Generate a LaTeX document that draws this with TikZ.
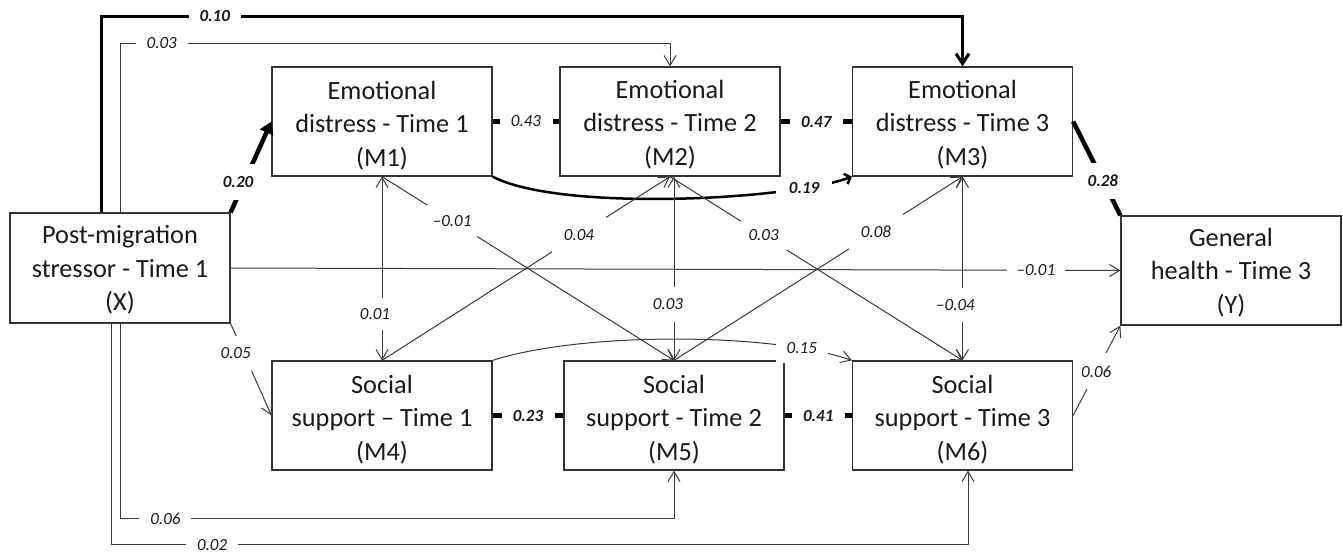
\documentclass[tikz,border=0pt]{standalone}
\usepackage{fontspec}
\setmainfont{Carlito}
\usetikzlibrary{arrows.meta}
\definecolor{boxc}{HTML}{333333}
\definecolor{linec}{HTML}{3A3A3A}
\definecolor{txtc}{HTML}{1A1A1A}
\begin{document}
\begin{tikzpicture}[x=1pt,y=-1pt,
  box/.style={draw=boxc, line width=1.2pt, minimum width=220pt, minimum height=109pt, inner sep=0pt},
  boxtext/.style={inner sep=0pt, align=center, font=\fontsize{26.3}{33.5}\selectfont, text=txtc},
  conn/.style={draw=linec, line width=1pt, -{Straight Barb[length=10pt,width=12pt]}},
  conntwo/.style={draw=linec, line width=1pt, {Straight Barb[length=10pt,width=12pt]}-{Straight Barb[length=10pt,width=12pt]}},
  stub/.style={draw=black, line width=5pt},
  lbl/.style={fill=white, inner sep=0pt, font=\fontsize{17}{17}\selectfont\itshape, text=txtc, minimum width=52pt, minimum height=18pt},
  lblb/.style={lbl, font=\fontsize{17}{17}\selectfont\itshape\bfseries}
]
\fill[white] (0,0) rectangle (1343,552);
\useasboundingbox (0,0) rectangle (1343,552);

% boxes
\node[box, minimum height=110pt] (X) at (120,268) {};
\node[box] (M1) at (382,121.5) {};
\node[box] (M2) at (670,121.5) {};
\node[box] (M3) at (962.5,121.5) {};
\node[box] (Y) at (1231,270.5) {};
\node[box] (M4) at (382,415.5) {};
\node[box] (M5) at (674,415.5) {};
\node[box] (M6) at (962.5,415.5) {};
% box texts
\node[boxtext] (Xt) at ([yshift=-2pt]X.center) {Post-migration\\stressor - Time 1\\(X)};
\node[boxtext] (M1t) at ([yshift=-4pt]M1.center) {Emotional\\distress - Time 1\\(M1)};
\node[boxtext] (M2t) at ([yshift=-3pt]M2.center) {Emotional\\distress - Time 2\\(M2)};
\node[boxtext] (M3t) at ([yshift=-3pt]M3.center) {Emotional\\distress - Time 3\\(M3)};
\node[boxtext] (Yt) at ([yshift=-2pt]Y.center) {General\\health - Time 3\\(Y)};
\node[boxtext] (M4t) at ([yshift=-4pt]M4.center) {Social\\support – Time 1\\(M4)};
\node[boxtext] (M5t) at ([yshift=-4pt]M5.center) {Social\\support - Time 2\\(M5)};
\node[boxtext] (M6t) at ([yshift=-4pt]M6.center) {Social\\support - Time 3\\(M6)};

% X -> M3 (0.10)
\draw[draw=black, line width=3pt, -{Straight Barb[length=10pt,width=13pt]}]
  ([xshift=-19pt]X.north) |- node[lblb, pos=0.566]{0.10} ([yshift=50pt]M3.north) -- (M3.north);
% X -> M2 (0.03)
\draw[conn] (X.north) |- node[lbl, pos=0.538]{0.03} ([yshift=23pt]M2.north) -- (M2.north);
% X -> M1 (0.20)
\draw[draw=black, line width=4.5pt, -{Triangle[length=12pt,width=14pt]}]
  (X.north east) -- node[lblb, pos=0.33, xshift=-6pt, minimum width=40pt, minimum height=36pt]{0.20} (M1.west);
% autoregressive stubs
\draw[stub] (M1.east) -- node[lbl, minimum width=53pt]{0.43} (M2.west);
\draw[stub] (M2.east) -- node[lblb, minimum width=53pt]{0.47} (M3.west);
\draw[stub] (M4.east) -- node[lblb, minimum width=53pt]{0.23} (M5.west);
\draw[stub] (M5.east) -- node[lblb, minimum width=53pt]{0.41} (M6.west);
% M1 -> M3 (0.19)
\draw[draw=black, line width=2.5pt, -{Straight Barb[length=5pt,width=11pt]}]
  (M1.south east) .. controls (560,212) and (790,200) .. node[lblb, pos=0.82, minimum width=56pt]{0.19} (M3.south west);
% M3 -> Y (0.28)
\draw[draw=black, line width=4.5pt]
  (M3.east) -- node[lblb, pos=0.63, minimum width=30pt, minimum height=36pt]{0.28} (Y.north west);
% X -> Y (-0.01)
\draw[conn] (X.east) -- node[lbl, pos=0.905, minimum width=58pt]{–0.01} (Y.west);
% X -> M4 (0.05)
\draw[conn] (X.south east) -- node[lbl, pos=0.32, xshift=-8pt, minimum width=40pt, minimum height=35pt]{0.05} (M4.west);
% X -> M5 (0.06)
\draw[conn] (X.south) |- node[lbl, pos=0.541]{0.06} ([yshift=-48pt]M5.south) -- (M5.south);
% X -> M6 (0.02)
\draw[conn] ([xshift=-9pt]X.south) |- node[lbl, pos=0.559]{0.02} ([xshift=5.5pt,yshift=-74pt]M6.south) -- ([xshift=5.5pt]M6.south);
% covariances between constructs
\draw[conntwo] (M1.south) -- node[lbl, pos=0.746, xshift=-7pt, minimum width=30pt, minimum height=32pt]{0.01} (M4.north);
\draw[conntwo] (M5.north |- M2.south) -- node[lbl, pos=0.695, xshift=-6pt, minimum width=30pt, minimum height=35pt]{0.03} (M5.north);
\draw[conntwo] (M3.south) -- node[lbl, pos=0.697, xshift=-7pt, minimum width=36pt, minimum height=34pt]{–0.04} (M6.north);
% cross-lagged
\draw[conn] (M4.north) -- node[lbl, pos=0.684, minimum width=54pt, minimum height=36pt]{0.04} (M2.south);
\draw[conn] (M1.south) -- node[lbl, pos=0.24, minimum width=50pt, minimum height=32pt]{–0.01} (M5.north);
\draw[conn] (M2.south) -- node[lbl, pos=0.32, minimum width=46pt, minimum height=30pt]{0.03} (M6.north);
\draw[conn] (M5.north) -- node[lbl, pos=0.70, minimum width=54pt, minimum height=36pt]{0.08} (M3.south);
% M4 -> M6 (0.15)
\draw[conn] (M4.north east) .. controls (580,332) and (770,332) .. node[lbl, pos=0.83, minimum width=52pt, minimum height=30pt]{0.15} (M6.north west);
% M6 -> Y (0.06)
\draw[conn] (M6.east) -- node[lbl, pos=0.49, minimum width=30pt, minimum height=36pt]{0.06} (Y.south west);
\end{tikzpicture}
\end{document}
